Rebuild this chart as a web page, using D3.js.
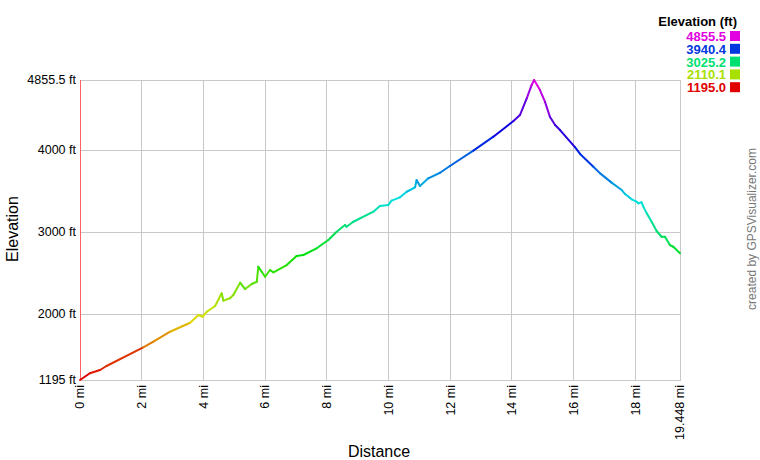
<!DOCTYPE html>
<html>
<head>
<meta charset="utf-8">
<script src="https://cdn.jsdelivr.net/npm/d3@7"></script>
<style>
  html, body { margin: 0; padding: 0; background: #fff; }
  svg { display: block; font-family: "Liberation Sans", Arial, sans-serif; }
</style>
</head>
<body>
<svg id="chart" width="760" height="460"></svg>
<script>
// ---- data ----
const distanceMi = [0, 0.32, 0.65, 0.86, 2.05, 2.38, 2.92, 3.57, 3.84, 3.98, 4.11, 4.38, 4.59, 4.65, 4.86, 4.97,
  5.19, 5.35, 5.57, 5.73, 5.78, 5.89, 6.0, 6.16, 6.27, 6.70, 7.02, 7.24, 7.67, 8.05, 8.32, 8.59, 8.64, 8.86,
  9.51, 9.72, 9.99, 10.10, 10.37, 10.59, 10.86, 10.91, 11.02, 11.29, 11.67, 11.99, 12.75, 13.40, 14.05, 14.26,
  14.48, 14.64, 14.72, 14.91, 15.07, 15.23, 15.40, 15.56, 16.05, 16.21, 16.64, 16.86, 17.23, 17.56, 17.67,
  17.88, 18.04, 18.10, 18.20, 18.26, 18.37, 18.53, 18.69, 18.85, 18.96, 19.12, 19.23, 19.448];
const elevationFt = [1195, 1277, 1317, 1366, 1594, 1662, 1784, 1894, 1988, 1967, 2028, 2098, 2253, 2163, 2192, 2232,
  2382, 2305, 2366, 2394, 2577, 2516, 2455, 2537, 2509, 2598, 2708, 2720, 2802, 2903, 3004, 3086, 3065, 3126,
  3249, 3318, 3330, 3383, 3424, 3492, 3546, 3635, 3562, 3656, 3724, 3806, 3993, 4164, 4355, 4428,
  4632, 4795, 4855.5, 4733, 4591, 4408, 4306, 4245, 4034, 3953, 3798, 3716, 3603, 3513, 3464,
  3400, 3371, 3350, 3363, 3310, 3228, 3126, 3013, 2943, 2943, 2842, 2821, 2741];
const yTickValues = [1195, 2000, 3000, 4000, 4855.5];
const yTickLabels = ["1195 ft", "2000 ft", "3000 ft", "4000 ft", "4855.5 ft"];
const xTickValues = [0, 2, 4, 6, 8, 10, 12, 14, 16, 18, 19.448];
const xTickLabels = ["0 mi", "2 mi", "4 mi", "6 mi", "8 mi", "10 mi", "12 mi", "14 mi", "16 mi", "18 mi", "19.448 mi"];
const legendValues = [4855.5, 3940.4, 3025.2, 2110.1, 1195.0];
const legendLabels = ["4855.5", "3940.4", "3025.2", "2110.1", "1195.0"];

// ---- layout ----
(function () {
const svg = d3.select("#chart");
const pL = 80, pR = 680, pT = 80, pB = 380;
const x = d3.scaleLinear().domain([0, 19.448]).range([pL, pR]);
const y = d3.scaleLinear().domain([1195, 4855.5]).range([pB, pT]);
const hue = d3.scaleLinear().domain([1195, 4855.5]).range([0, 300]);
const colorOf = v => d3.hsl(hue(v), 1, 0.44).formatHex();

// grid
const g = svg.append("g");
g.selectAll("line.vg").data(xTickValues).join("line")
  .attr("x1", d => x(d)).attr("x2", d => x(d)).attr("y1", pT).attr("y2", pB)
  .attr("stroke", "#c8c8c8").attr("stroke-width", 1).attr("shape-rendering", "crispEdges");
g.selectAll("line.hg").data(yTickValues).join("line")
  .attr("x1", pL).attr("x2", pR).attr("y1", d => y(d)).attr("y2", d => y(d))
  .attr("stroke", "#c8c8c8").attr("stroke-width", 1).attr("shape-rendering", "crispEdges");

// border top/right/bottom
svg.append("path").attr("d", `M${pL},${pT}H${pR}V${pB}H${pL}`)
  .attr("fill", "none").attr("stroke", "#c8c8c8").attr("shape-rendering", "crispEdges");

// left axis line (red)
svg.append("line").attr("x1", pL).attr("x2", pL).attr("y1", pT).attr("y2", pB)
  .attr("stroke", "#ff6060").attr("stroke-width", 1).attr("shape-rendering", "crispEdges");

// y tick labels
svg.append("g").selectAll("text").data(yTickValues).join("text")
  .attr("x", pL - 4).attr("y", d => y(d)).attr("dy", "0.35em")
  .attr("text-anchor", "end").attr("font-size", "12.5px").attr("fill", "#000")
  .text((d, i) => yTickLabels[i]);

// x tick labels (rotated)
svg.append("g").selectAll("text").data(xTickValues).join("text")
  .attr("transform", d => `translate(${x(d)},${pB + 5}) rotate(-90)`)
  .attr("dy", "0.35em").attr("text-anchor", "end").attr("font-size", "12.5px").attr("fill", "#000")
  .text((d, i) => xTickLabels[i]);

// profile line: each segment coloured by the elevation of its starting point
const pts = distanceMi.map((d, i) => [d, elevationFt[i]]);
const segs = d3.pairs(pts);
const line = d3.line().x(d => x(d[0])).y(d => y(d[1]));
svg.append("g").selectAll("path").data(segs).join("path")
  .attr("d", d => line(d))
  .attr("fill", "none").attr("stroke", d => colorOf(d[0][1])).attr("stroke-width", 2)
  .attr("stroke-linecap", "round");

// axis titles
svg.append("text").attr("x", 379).attr("y", 457).attr("text-anchor", "middle")
  .attr("font-size", "16px").attr("fill", "#000").text("Distance");
svg.append("text").attr("transform", "translate(18,229) rotate(-90)").attr("text-anchor", "middle")
  .attr("font-size", "16px").attr("fill", "#000").text("Elevation");

// legend
svg.append("text").attr("x", 737).attr("y", 26).attr("text-anchor", "end")
  .attr("font-size", "13px").attr("font-weight", "bold").attr("fill", "#000").text("Elevation (ft)");
const lg = svg.append("g");
legendValues.forEach((v, i) => {
  const by = 41 + i * 12.8;
  lg.append("text").attr("x", 726).attr("y", by).attr("text-anchor", "end")
    .attr("font-size", "13px").attr("font-weight", "bold").attr("fill", colorOf(v)).text(legendLabels[i]);
  lg.append("rect").attr("x", 730).attr("y", by - 10).attr("width", 10).attr("height", 10)
    .attr("fill", colorOf(v));
});

// credit
svg.append("text").attr("transform", "translate(756,229) rotate(-90)").attr("text-anchor", "middle")
  .attr("font-size", "12px").attr("fill", "#777").text("created by GPSVisualizer.com");
})();
</script>
</body>
</html>
